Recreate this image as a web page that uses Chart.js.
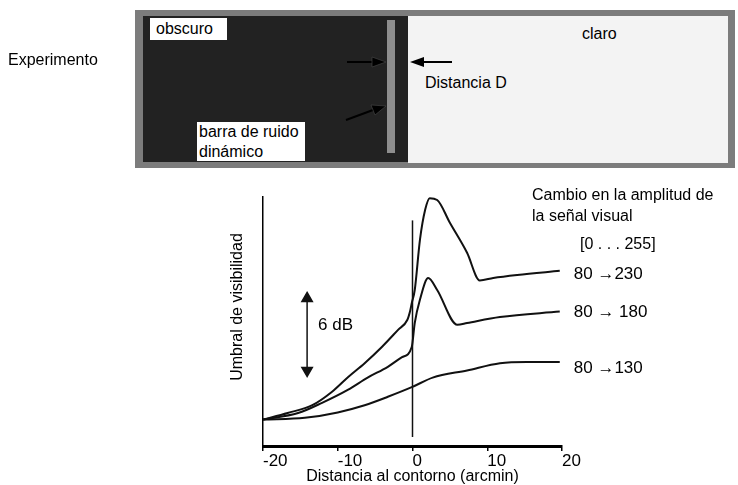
<!DOCTYPE html>
<html>
<head>
<meta charset="utf-8">
<script src="https://cdn.jsdelivr.net/npm/chart.js@4.4.1/dist/chart.umd.min.js"></script>
<style>
  body { margin: 0; background: #fff; font-family: "Liberation Sans", Arial, sans-serif; color: #000; }
  #wrap { position: relative; width: 738px; height: 485px; overflow: hidden; }
  #chart { position: absolute; left: 0; top: 0; }
  .abs { position: absolute; }
  .t { font-size: 16px; line-height: 19px; white-space: nowrap; }
  #frame { left: 135px; top: 10px; width: 600px; height: 158px; background: #7c7c7c; }
  #dark { left: 143px; top: 16px; width: 265px; height: 146px; background: #222; }
  #light { left: 408px; top: 16px; width: 320px; height: 147px; background: #f3f3f3; }
  #bar { left: 387px; top: 20px; width: 8px; height: 133px; background: #8e8e8e; }
  .box { background: #fff; }
</style>
</head>
<body>
<div id="wrap">
  <canvas id="chart" width="738" height="485"></canvas>

  <div class="abs t" style="left:8px;top:50px">Experimento</div>
  <div class="abs" id="frame"></div>
  <div class="abs" id="dark"></div>
  <div class="abs" id="light"></div>
  <div class="abs" id="bar"></div>
  <div class="abs t box" style="left:150px;top:18px;width:71px;height:22px;line-height:22px;padding-left:6px">obscuro</div>
  <div class="abs t box" style="left:197px;top:122px;width:106px;height:39px;line-height:20px;padding-left:2px">barra de ruido<br>dinámico</div>
  <div class="abs t" style="left:582px;top:24px">claro</div>
  <div class="abs t" style="left:425px;top:73px">Distancia D</div>
  <svg class="abs" style="left:0;top:0" width="738" height="180">
    <line x1="347" y1="62" x2="373" y2="62" stroke="#000" stroke-width="2"/>
    <polygon points="386,62 372,57 372,67" fill="#000" stroke="#4a4a4a" stroke-width="0.6"/>
    <line x1="346" y1="120" x2="373" y2="110" stroke="#000" stroke-width="2"/>
    <polygon points="386,106 371,105 375,115" fill="#000" stroke="#4a4a4a" stroke-width="0.6"/>
    <line x1="452" y1="62" x2="422" y2="62" stroke="#000" stroke-width="2"/>
    <polygon points="410,62 424,57 424,67" fill="#000"/>
  </svg>
</div>

<script>
// distance to the contour (arcmin) and visibility threshold (dB) per curve
const dist230 = [-20, -16.7, -13.4, -10.8, -8.6, -6.4, -4.1, -1.9, -0.7, -0.3, -0.1, 0.3, 1.0, 1.7, 2.3, 3.3, 5.0, 7.3, 9.0, 10.8, 14.0, 19.7];
const umbral230 = [2.2, 2.75, 3.4, 4.5, 5.75, 6.9, 8.25, 9.7, 10.5, 11.3, 11.9, 13.0, 17.2, 19.7, 20.65, 20.5, 18.6, 16.1, 13.8, 14.0, 14.25, 14.6];

const dist180 = [-20, -15.3, -12.1, -8.6, -6.0, -3.3, -1.4, -0.1, 0.3, 1.0, 2.1, 3.3, 6.0, 7.3, 11.7, 19.7];
const umbral180 = [2.2, 2.75, 3.6, 4.7, 5.7, 6.6, 7.4, 8.25, 10.25, 12.2, 14.0, 13.0, 10.1, 10.25, 10.75, 11.2];

const dist130 = [-20, -14.4, -10.0, -6.4, -3.3, -0.1, 2.7, 7.3, 11.7, 15.3, 19.7];
const umbral130 = [2.2, 2.35, 2.8, 3.4, 4.1, 4.9, 5.7, 6.3, 6.9, 7.0, 7.0];

const seriesLabels = ['80 \u2192230', '80 \u2192 180', '80 \u2192130'];

// contour line at 0 and the 6 dB scale arrow
const markerDist = [0, 0];
const markerUmbral = [0.75, 18.8];
const arrowDist = [-14.1, -14.1];
const arrowDb = [6.3, 12.3];

const distTicks = [-20, -10, 0, 10, 20];

const font = '"Liberation Sans", Arial, sans-serif';
const pts = (xs, ys) => xs.map((x, i) => ({ x: x, y: ys[i] }));

const curve = (xs, ys) => ({
  data: pts(xs, ys),
  borderColor: '#111',
  borderWidth: 2,
  pointRadius: 0,
  cubicInterpolationMode: 'monotone'
});

const notes = {
  id: 'notes',
  afterDatasetsDraw(chart) {
    const ctx = chart.ctx;
    const xs = chart.scales.x, ys = chart.scales.y;
    ctx.save();
    ctx.fillStyle = '#000';
    ctx.textBaseline = 'middle';
    ctx.textAlign = 'left';

    ctx.font = '17px ' + font;
    ctx.fillText('6 dB', xs.getPixelForValue(arrowDist[0]) + 11,
      ys.getPixelForValue((arrowDb[0] + arrowDb[1]) / 2) - 9);

    // labels at the end of each curve
    const offs = [4, 1, 6];
    [0, 1, 2].forEach(i => {
      const meta = chart.getDatasetMeta(i);
      const last = meta.data[meta.data.length - 1];
      ctx.fillText(seriesLabels[i], last.x + 14, last.y + offs[i]);
    });

    ctx.font = '16px ' + font;
    ctx.fillText('Cambio en la amplitud de', 532, 196);
    ctx.fillText('la se\u00f1al visual', 532, 217);
    ctx.fillText('[0 . . . 255]', 580, 245);

    // y axis title
    ctx.translate(238, 307);
    ctx.rotate(-Math.PI / 2);
    ctx.textAlign = 'center';
    ctx.fillText('Umbral de visibilidad', 0, 0);
    ctx.restore();
  }
};

new Chart(document.getElementById('chart'), {
  type: 'line',
  data: {
    datasets: [
      curve(dist230, umbral230),
      curve(dist180, umbral180),
      curve(dist130, umbral130),
      {
        data: pts(markerDist, markerUmbral),
        borderColor: '#111',
        borderWidth: 1.5,
        pointRadius: 0
      },
      {
        data: pts(arrowDist, arrowDb),
        borderColor: '#111',
        borderWidth: 1.5,
        pointStyle: 'triangle',
        pointRadius: 6,
        pointRotation: [180, 0],
        pointBackgroundColor: '#111',
        pointBorderColor: '#111'
      }
    ]
  },
  options: {
    responsive: false,
    animation: false,
    devicePixelRatio: 1,
    layout: { padding: { left: 229, right: 176, top: 197, bottom: 0 } },
    plugins: { legend: { display: false }, tooltip: { enabled: false } },
    scales: {
      x: {
        type: 'linear',
        min: -20,
        max: 20,
        afterFit: s => { s.height = 39; },
        afterBuildTicks: s => { s.ticks = distTicks.map(v => ({ value: v })); },
        grid: { drawOnChartArea: false, drawTicks: true, tickLength: 5, color: '#000', lineWidth: 1.5 },
        border: { display: true, color: '#000', width: 3 },
        ticks: { align: 'start', padding: 0, color: '#000', font: { size: 17, family: font } },
        title: {
          display: true,
          text: 'Distancia al contorno (arcmin)',
          color: '#000',
          font: { size: 16, family: font, lineHeight: 1 },
          padding: { top: 0, bottom: 0 }
        }
      },
      y: {
        min: 0,
        max: 20.75,
        afterFit: s => { s.width = 34; },
        grid: { display: false },
        border: { display: true, color: '#000', width: 1.5 },
        ticks: { display: false }
      }
    }
  },
  plugins: [notes]
});
</script>
</body>
</html>
